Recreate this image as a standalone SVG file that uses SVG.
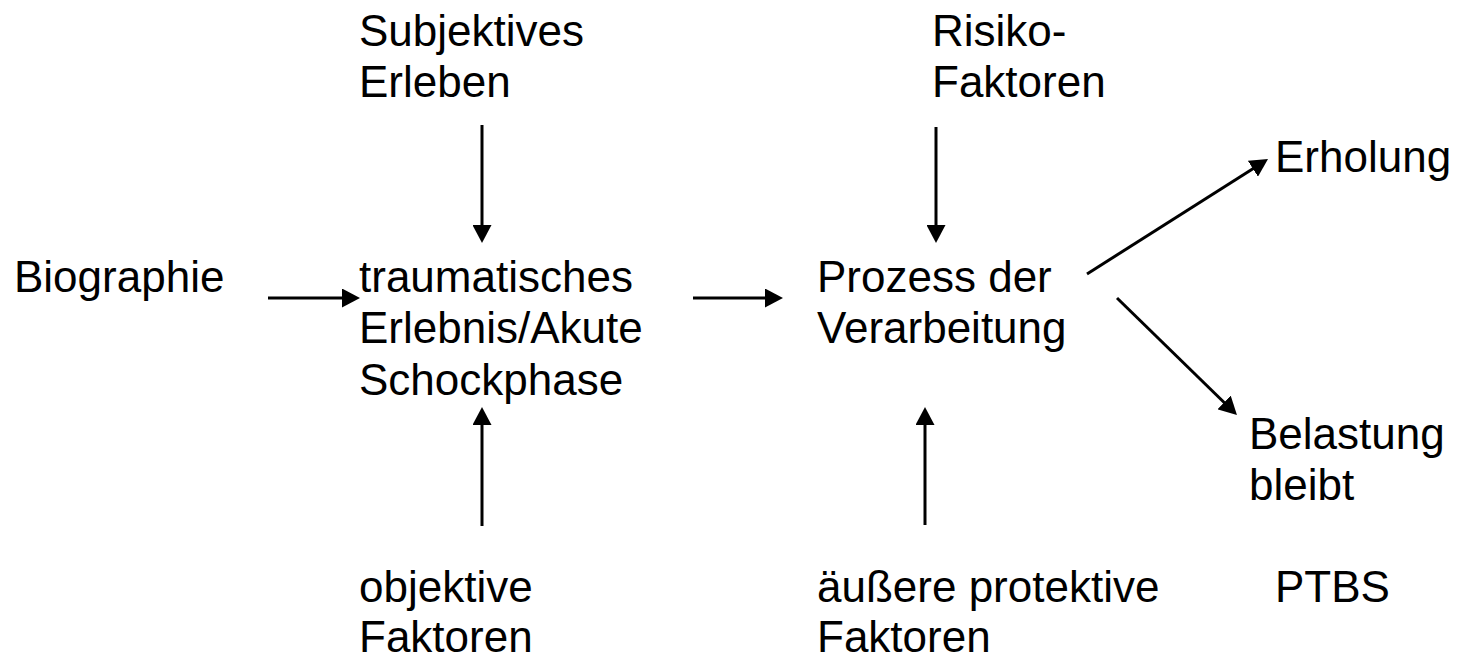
<svg xmlns="http://www.w3.org/2000/svg" width="1464" height="661" viewBox="0 0 1464 661">
<style>
text { font-family: "Liberation Sans", Arial, sans-serif; font-size: 44px; fill: #000; }
.c { stroke: #000; stroke-width: 3; fill: none; marker-end: url(#ah); }
</style>
<defs>
<marker id="ah" viewBox="0 0 18 19" refX="8" refY="9.5" markerWidth="18" markerHeight="19" markerUnits="userSpaceOnUse" orient="auto">
<path d="M0,0 L18,9.5 L0,19 Z" fill="#000"/>
</marker>
</defs>
<rect width="1464" height="661" fill="#fff"/>
<g id="subjektives"><text x="359" y="46">Subjektives</text><text x="359" y="97">Erleben</text></g>
<g id="risiko"><text x="932" y="46">Risiko-</text><text x="932" y="97">Faktoren</text></g>
<g id="erholung"><text x="1275" y="172">Erholung</text></g>
<g id="biographie"><text x="14" y="292">Biographie</text></g>
<g id="trauma"><text x="359" y="292">traumatisches</text><text x="359" y="343">Erlebnis/Akute</text><text x="359" y="395">Schockphase</text></g>
<g id="prozess"><text x="817" y="292">Prozess der</text><text x="817" y="343">Verarbeitung</text></g>
<g id="belastung"><text x="1249" y="449">Belastung</text><text x="1249" y="500">bleibt</text></g>
<g id="objektive"><text x="359" y="602">objektive</text><text x="359" y="652">Faktoren</text></g>
<g id="protektive"><text x="817" y="602">äußere protektive</text><text x="817" y="652">Faktoren</text></g>
<g id="ptbs"><text x="1275" y="602">PTBS</text></g>
<g id="connectors">
<path class="c" d="M482,125 L482,233"/>
<path class="c" d="M936,127 L936,233"/>
<path class="c" d="M268,298 L350,298"/>
<path class="c" d="M693,298 L773,298"/>
<path class="c" d="M482,526 L482,417"/>
<path class="c" d="M925,525 L925,417"/>
<path class="c" d="M1087,274 L1259.6,164.4"/>
<path class="c" d="M1117,298 L1229.8,408"/>
</g>
</svg>
